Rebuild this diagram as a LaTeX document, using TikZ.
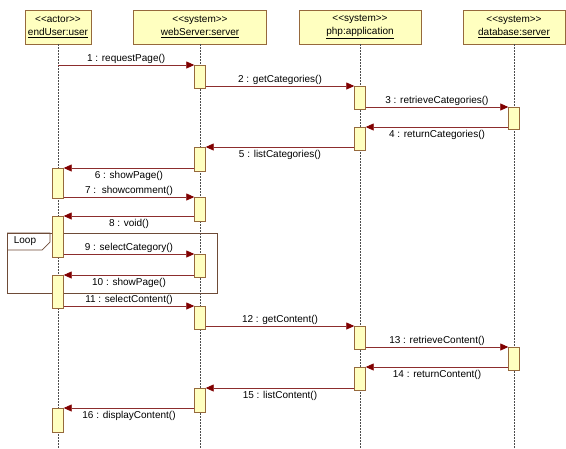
\documentclass[tikz,border=0pt]{standalone}
\usepackage{fontspec}
\setmainfont{Liberation Sans}
\usepackage{tikz}
\usetikzlibrary{arrows.meta}
\definecolor{umlred}{RGB}{128,0,0}
\definecolor{umlline}{RGB}{140,45,45}
\definecolor{umlfill}{RGB}{255,255,192}
\definecolor{umlborder}{RGB}{150,105,60}
\definecolor{umlframe}{RGB}{110,75,55}
\newcommand{\stereo}[1]{\textless\kern0pt\textless\kern0pt#1\kern0pt\textgreater\kern0pt\textgreater}

\begin{document}
\begin{tikzpicture}[x=1pt, y=-1pt, font=\fontsize{10}{12.5}\selectfont,
  head/.style={draw=umlborder, fill=umlfill, minimum height=34pt, align=center, inner sep=1pt},
  act/.style={draw=umlborder, fill=umlfill, minimum width=11pt, minimum height=23pt, inner sep=0pt, anchor=north},
  life/.style={draw=black!70, dash pattern=on 1.5pt off 1.5pt, line width=0.8pt},
  msg/.style={draw=umlline, line width=0.7pt, -{Triangle[length=8pt, width=7pt, color=umlred]}},
  lbl/.style={midway, inner sep=1.5pt},
  lblb/.style={midway, below, inner sep=3pt}]
\useasboundingbox (0,0) rectangle (566,448);
\coordinate (bot) at (0,448);

% Lifeline heads
\node[head, minimum width=66pt] (user) at (58,27) {\stereo{actor}\\\underline{endUser:user}};
\node[head, minimum width=133pt] (web) at (200,27) {\stereo{system}\\\underline{webServer:server}};
\node[head, minimum width=122pt] (php) at (360,27) {\stereo{system}\\\underline{php:application}};
\node[head, minimum width=102pt] (dbase) at (514,27) {\stereo{system}\\\underline{database:server}};

% Lifelines
\draw[life] (user.south) -- (user |- bot);
\draw[life] (web.south) -- (web |- bot);
\draw[life] (php.south) -- (php |- bot);
\draw[life] (dbase.south) -- (dbase |- bot);

% Loop fragment
\draw[umlframe, line width=0.7pt] (7,233) rectangle (217,293);
\draw[umlframe, line width=0.7pt] (7,233) -- (50,233) -- (50,242) -- (42,250) -- (7,250);
\node (loop) at (25,241.5) {Loop};

% Activations
\node[act, minimum height=30pt] (u1) at (58,168) {};
\node[act, minimum height=41pt] (u2) at (58,216) {};
\node[act, minimum height=33pt] (u3) at (58,275) {};
\node[act, minimum height=24pt] (u4) at (58,408) {};
\node[act] (w1) at (200,65) {};
\node[act, minimum height=24pt] (w2) at (200,147) {};
\node[act, minimum height=24pt] (w3) at (200,197) {};
\node[act] (w4) at (200,254) {};
\node[act] (w5) at (200,306) {};
\node[act, minimum height=24pt] (w6) at (200,388) {};
\node[act] (p1) at (360,86) {};
\node[act] (p2) at (360,127) {};
\node[act] (p3) at (360,326) {};
\node[act] (p4) at (360,367) {};
\node[act, minimum height=22pt] (d1) at (514,107) {};
\node[act] (d2) at (514,347) {};

% Messages
\draw[msg] (user |- w1.north) -- (w1.north west) node[lbl, above] {1 : requestPage()};
\draw[msg] (w1.east |- p1.north) -- (p1.north west) node[lbl, above] {2 : getCategories()};
\draw[msg] (p1.east |- d1.north) -- (d1.north west) node[lbl, above] {3 : retrieveCategories()};
\draw[msg] (d1.west |- p2.north) -- (p2.north east) node[lblb] {4 : returnCategories()};
\draw[msg] (p2.west |- w2.north) -- (w2.north east) node[lblb] {5 : listCategories()};
\draw[msg] (w2.west |- u1.north) -- (u1.north east) node[lblb] {6 : showPage()};
\draw[msg] (u1.east |- w3.north) -- (w3.north west) node[lbl, above] {7 :\ \ showcomment()};
\draw[msg] (w3.west |- u2.north) -- (u2.north east) node[lblb] {8 : void()};
\draw[msg] (u2.east |- w4.north) -- (w4.north west) node[lbl, above] {9 : selectCategory()};
\draw[msg] (w4.west |- u3.north) -- (u3.north east) node[lblb] {10 : showPage()};
\draw[msg] (u3.east |- w5.north) -- (w5.north west) node[lbl, above] {11 : selectContent()};
\draw[msg] (w5.east |- p3.north) -- (p3.north west) node[lbl, above] {12 : getContent()};
\draw[msg] (p3.east |- d2.north) -- (d2.north west) node[lbl, above] {13 : retrieveContent()};
\draw[msg] (d2.west |- p4.north) -- (p4.north east) node[lblb] {14 : returnContent()};
\draw[msg] (p4.west |- w6.north) -- (w6.north east) node[lblb] {15 : listContent()};
\draw[msg] (w6.west |- u4.north) -- (u4.north east) node[lblb] {16 : displayContent()};
\end{tikzpicture}
\end{document}
